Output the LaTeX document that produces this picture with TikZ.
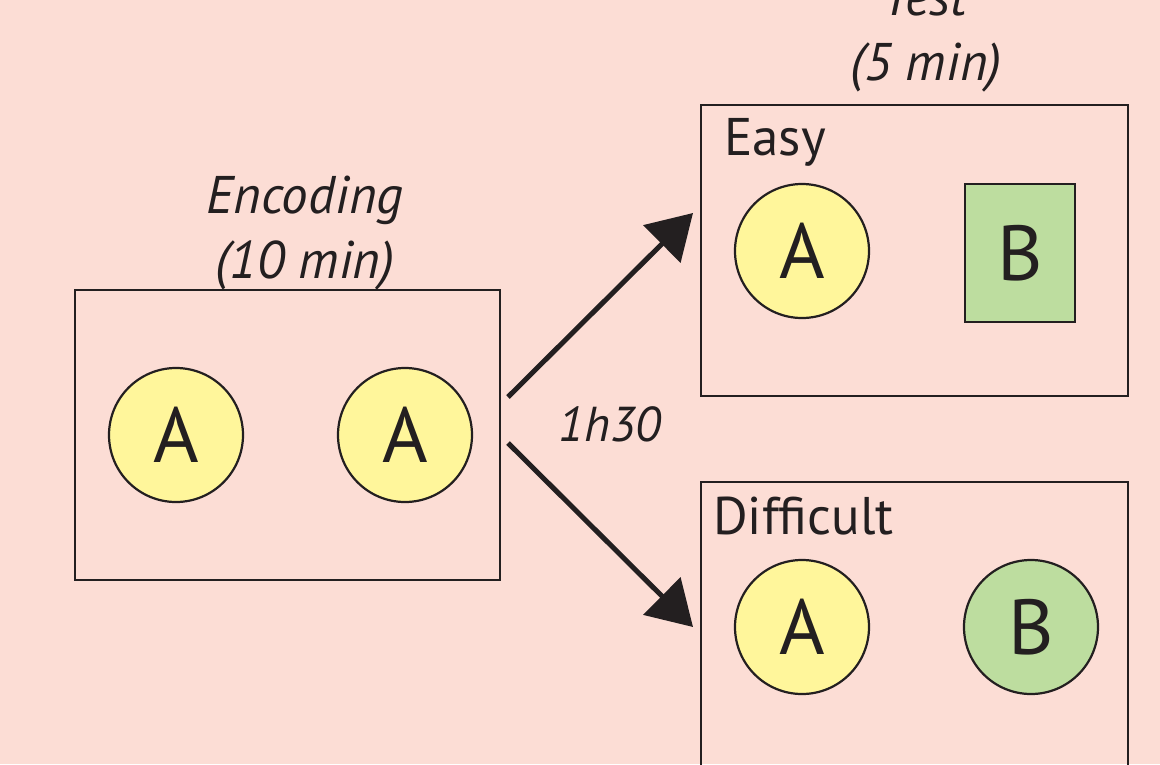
\documentclass[tikz,border=0pt]{standalone}
\usepackage{fontspec}
\setmainfont{PT Sans}
\usetikzlibrary{arrows.meta}
\definecolor{bgpink}{HTML}{FCDDD5}
\definecolor{ayellow}{HTML}{FFF69B}
\definecolor{bgreen}{HTML}{BDDD9F}
\definecolor{ink}{HTML}{231F20}
\tikzset{
  frame/.style={draw=ink, line width=2.5pt, inner sep=0pt, rectangle},
  item/.style={draw=ink, line width=2.2pt, inner sep=0pt, text=ink,
    font=\fontsize{78}{80}\selectfont},
  acirc/.style={item, circle, fill=ayellow, minimum size=134pt},
  bcirc/.style={item, circle, fill=bgreen, minimum size=134pt},
  bsq/.style={item, rectangle, fill=bgreen, minimum width=110pt, minimum height=138pt},
  title/.style={anchor=base, inner sep=0pt, text=ink, font=\fontsize{53}{60}\selectfont\itshape},
  boxlabel/.style={anchor=base west, inner sep=0pt, text=ink, font=\fontsize{53}{60}\selectfont},
  flow/.style={draw=ink, line width=5pt, -{Triangle[length=44pt,width=52pt]}}
}
\begin{document}
\begin{tikzpicture}[x=1pt,y=-1pt]
\useasboundingbox (0,0) rectangle (1160,764);
\clip (0,0) rectangle (1160,764);
\fill[bgpink] (0,0) rectangle (1160,764);

% Encoding
\node[title] (enct) at (305,213) {Encoding};
\node[title] (encm) at (305,278) {(10 min)};
\node[frame, minimum width=425pt, minimum height=290pt] (enc) at (287.5,435) {};
\node[acirc] (ea1) at (176,435) {A};
\node[acirc] (ea2) at (405,435) {A};

% Test
\node[title] (testt) at (925,15) {Test};
\node[title] (testm) at (926,80) {(5 min)};

% Easy
\node[frame, minimum width=427pt, minimum height=291pt] (easy) at (914.5,250.5) {};
\node[boxlabel] (easyl) at (724,155) {Easy};
\node[acirc] (xa) at (802,251) {A};
\node[bsq] (xb) at (1020,253) {B};

% Difficult
\node[frame, minimum width=427pt, minimum height=400pt] (diff) at (914.5,682) {};
\node[boxlabel] (diffl) at (713,534) {Difficult};
\node[acirc] (da) at (802,627) {A};
\node[bcirc] (db) at (1031,627) {B};

% arrows
\coordinate (s1) at (508,397);
\coordinate (t1) at (693,213);
\coordinate (s2) at (508,443);
\coordinate (t2) at (693,627);
\draw[flow] (s1) -- (t1);
\draw[flow] (s2) -- (t2);
\node[title, font=\fontsize{49}{55}\selectfont\itshape] (dur) at (610,441) {1h30};
\end{tikzpicture}
\end{document}
